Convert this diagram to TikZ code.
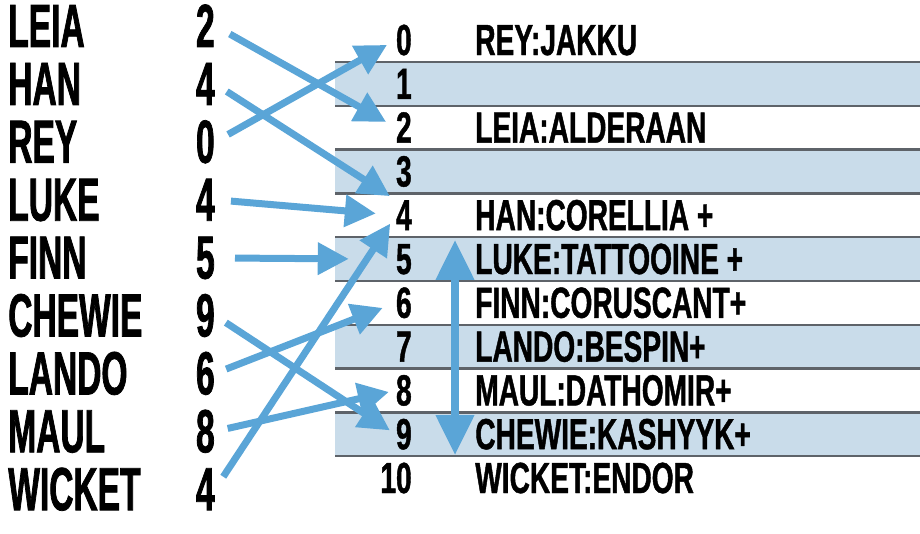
\documentclass[tikz,border=0pt]{standalone}
\usepackage{fontspec}
\usetikzlibrary{arrows.meta}
\newfontfamily\namefont{Liberation Sans}[FakeStretch=0.55,FakeBold=1.2]
\newfontfamily\cellfont{Liberation Sans}[FakeStretch=0.645,FakeBold=1]
\definecolor{hashblue}{HTML}{5AA5D7}
\definecolor{rowshade}{HTML}{C9DCEA}
\definecolor{rulegray}{HTML}{5E6369}

\begin{document}
\begin{tikzpicture}[x=0.02cm,y=-0.02cm,line width=.35pt,
  keytext/.style={inner sep=0pt,font=\namefont\bfseries\fontsize{34.7}{36}\selectfont},
  celltext/.style={inner sep=0pt,font=\cellfont\bfseries\fontsize{24.8}{26}\selectfont},
  hasharrow/.style={draw=hashblue,line width=0.14cm,-{Triangle[length=0.62cm,width=0.62cm]}}]
\useasboundingbox (0,0) rectangle (920,534);
% table rows
\foreach \r in {1,3,5,7,9}
  \fill[rowshade] (335,{62+43.8*(\r-1)}) rectangle (920,{62+43.8*\r});
\foreach \r in {0,...,9}
  \draw[rulegray,line width=1.4pt] (335,{62+43.8*\r}) -- (920,{62+43.8*\r});
\foreach \txt [count=\r from 0] in {REY:JAKKU,{},LEIA:ALDERAAN,{},HAN:CORELLIA +,LUKE:TATTOOINE +,FINN:CORUSCANT+,LANDO:BESPIN+,MAUL:DATHOMIR+,CHEWIE:KASHYYK+,WICKET:ENDOR}{
  \node[celltext,anchor=base east] (s\r) at (412,{55+43.8*\r}) {\r};
  \node[celltext,anchor=base west] (c\r) at (475,{55+43.8*\r}) {\txt};
}
% keys and hash values
\foreach \who/\h [count=\i from 0] in {LEIA/2,HAN/4,REY/0,LUKE/4,FINN/5,CHEWIE/9,LANDO/6,MAUL/8,WICKET/4}{
  \node[keytext,anchor=base west] (k\i) at (8,{47+57.9*\i}) {\who};
  \node[keytext,anchor=base east] (h\i) at (215,{47+57.9*\i}) {\h};
}
\draw[hasharrow,shorten <=0.34cm,shorten >=0.22cm] (h0.east) -- (s2.west);
\draw[hasharrow,shorten <=0.28cm,shorten >=0.14cm] (h1.east) -- (s4.north west);
\draw[hasharrow,shorten <=0.3cm,shorten >=0.2cm] (h2.east) -- (s0.west);
\draw[hasharrow,shorten <=0.32cm,shorten >=0.4cm] (h3.east) -- (s4.west);
\draw[hasharrow,shorten <=0.4cm,shorten >=0.94cm] (h4.east) -- (s5.west);
\draw[hasharrow,shorten <=0.26cm,shorten >=0.14cm] (h5.east) -- (s9.west);
\draw[hasharrow,shorten <=0.24cm,shorten >=0.28cm] (h6.east) -- (s6.west);
\draw[hasharrow,shorten <=0.26cm,shorten >=0.14cm] (h7.east) -- (s8.west);
\draw[hasharrow,shorten <=0.3cm,shorten >=0.2cm] (h8.east) -- (s4.west);
% probe span
\coordinate (probetop) at (455,240);
\coordinate (probebot) at (455,455);
\draw[draw=hashblue,line width=0.15cm,{Triangle[length=0.8cm,width=0.74cm]}-{Triangle[length=0.8cm,width=0.74cm]}] (probetop) -- (probebot);
\end{tikzpicture}
\end{document}
